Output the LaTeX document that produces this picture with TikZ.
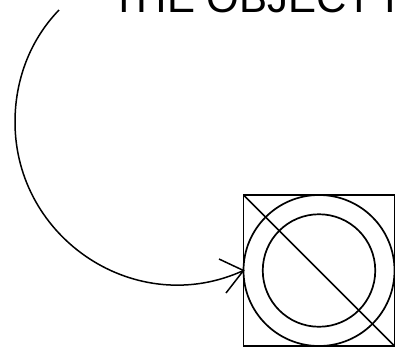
\documentclass[tikz,border=0pt]{standalone}
\usepackage{fontspec}
\setmainfont{Liberation Sans}
\tikzset{
  ink/.style={draw=black,line width=1.7pt},
  thinink/.style={draw=black,line width=1.5pt},
  title/.style={inner sep=0pt,anchor=base west,font=\fontsize{42}{42}\selectfont}
}
\begin{document}
\begin{tikzpicture}[x=1pt,y=-1pt]
\useasboundingbox (0,0) rectangle (395,349);
\clip (0,0) rectangle (395,349);
\node[title] (label) at (111,12.5) {THE OBJECT I};
\node[ink,minimum size=151pt,inner sep=0pt,outer sep=0pt] (box) at (319,270.5) {};
\node[ink,circle,minimum size=151pt,inner sep=0pt,outer sep=0pt] (outer) at (319,270.5) {};
\node[ink,circle,minimum size=112.5pt,inner sep=0pt,outer sep=0pt] (inner) at (319,270.5) {};
\draw[ink] (box.north west) -- (box.south east);
\coordinate (start) at (59,10);
\coordinate (left) at (15,122);
\coordinate (barbA) at (219,259);
\coordinate (barbB) at (226,293);
\draw[thinink] (start) .. controls (30,40) and (15,80) .. (left)
  .. controls (15,239) and (136.5,319.6) .. (box.west);
\draw[thinink,line join=miter] (barbA) -- (box.west) -- (barbB);
\end{tikzpicture}
\end{document}
